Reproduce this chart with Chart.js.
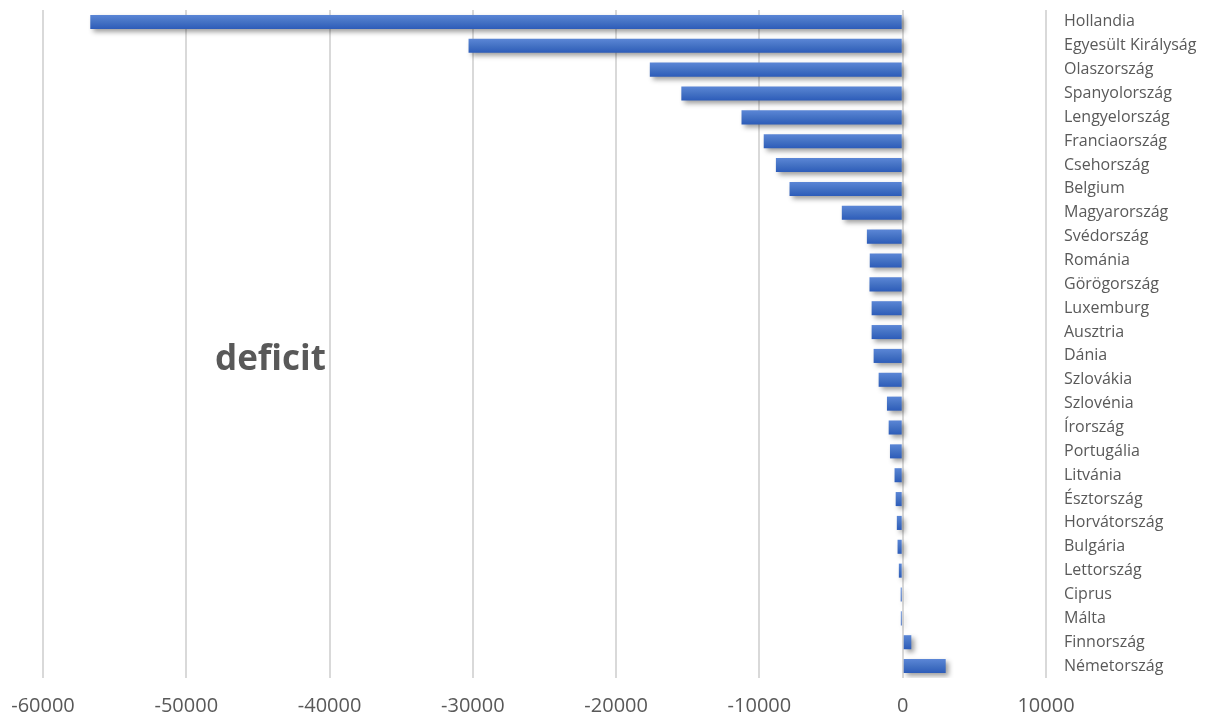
<!DOCTYPE html>
<html>
<head>
<meta charset="utf-8">
<script src="https://cdn.jsdelivr.net/npm/chart.js@4.4.0/dist/chart.umd.min.js"></script>
<style>
    html, body { margin: 0; padding: 0; background: #ffffff; }
    #wrap { width: 1207px; height: 720px; position: relative; }
</style>
</head>
<body>
<div id="wrap"><canvas id="deficitChart"></canvas></div>
<script>
// --- Données ---
const countries = [
    'Hollandia', 'Egyesült Királyság', 'Olaszország', 'Spanyolország', 'Lengyelország',
    'Franciaország', 'Csehország', 'Belgium', 'Magyarország', 'Svédország',
    'Románia', 'Görögország', 'Luxemburg', 'Ausztria', 'Dánia',
    'Szlovákia', 'Szlovénia', 'Írország', 'Portugália', 'Litvánia',
    'Észtország', 'Horvátország', 'Bulgária', 'Lettország', 'Ciprus',
    'Málta', 'Finnország', 'Németország'
];
const balance = [
    -56700, -30300, -17650, -15450, -11250,
    -9700, -8850, -7900, -4250, -2500,
    -2300, -2320, -2170, -2170, -2030,
    -1680, -1100, -980, -890, -570,
    -490, -410, -360, -270, -140,
    -130, 600, 3000
];
const xTicks = [-60000, -50000, -40000, -30000, -20000, -10000, 0, 10000];
const annotationText = 'deficit';

// dégradé vertical pour chaque barre (style Excel)
function barGradient(context) {
    const chart = context.chart;
    const yScale = chart.scales.y;
    if (!chart.chartArea || !yScale) return '#4472c4';
    const center = yScale.getPixelForValue(context.dataIndex);
    const half = 7;
    const g = chart.ctx.createLinearGradient(0, center - half, 0, center + half);
    g.addColorStop(0, '#5b86d6');
    g.addColorStop(0.5, '#4472c4');
    g.addColorStop(1, '#2d5cb9');
    return g;
}

// ombre portée sous les barres
const shadowPlugin = {
    id: 'barShadow',
    beforeDatasetDraw(chart) {
        const ctx = chart.ctx;
        ctx.save();
        ctx.shadowColor = 'rgba(0, 0, 0, 0.38)';
        ctx.shadowBlur = 5;
        ctx.shadowOffsetX = 3;
        ctx.shadowOffsetY = 3;
    },
    afterDatasetDraw(chart) {
        chart.ctx.restore();
    }
};

// texte "deficit" dans la zone du graphique
const labelPlugin = {
    id: 'deficitLabel',
    afterDraw(chart) {
        const ctx = chart.ctx;
        const area = chart.chartArea;
        ctx.save();
        ctx.font = 'bold 35px "Open Sans"';
        ctx.fillStyle = '#595959';
        ctx.textAlign = 'left';
        ctx.textBaseline = 'middle';
        ctx.fillText(annotationText, area.left + 172, area.top + 350);
        ctx.restore();
    }
};

new Chart(document.getElementById('deficitChart'), {
    type: 'bar',
    data: {
        labels: countries,
        datasets: [{
            data: balance,
            backgroundColor: barGradient,
            borderWidth: 0,
            barPercentage: 0.62,
            categoryPercentage: 0.95
        }]
    },
    options: {
        indexAxis: 'y',
        responsive: true,
        maintainAspectRatio: false,
        animation: false,
        layout: { padding: { left: 43, right: 0, top: 10, bottom: 2 } },
        plugins: {
            legend: { display: false },
            tooltip: { enabled: false }
        },
        scales: {
            x: {
                min: -60000,
                max: 10000,
                afterBuildTicks(scale) {
                    scale.ticks = xTicks.map(v => ({ value: v }));
                },
                afterFit(scale) {
                    scale.height = 40;
                    scale.paddingLeft = 0;
                    scale.paddingRight = 0;
                },
                grid: { color: '#d9d9d9', lineWidth: 2, drawTicks: false },
                border: { display: false },
                ticks: {
                    color: '#595959',
                    font: { family: 'Open Sans', size: 20 },
                    padding: 16,
                    maxRotation: 0,
                    callback: v => String(v)
                }
            },
            y: {
                position: 'right',
                afterFit(scale) {
                    scale.width = 161;
                    scale.paddingTop = 0;
                    scale.paddingBottom = 0;
                },
                grid: { display: false, drawTicks: false },
                border: { display: false },
                ticks: {
                    color: '#595959',
                    font: { family: 'Open Sans', size: 16 },
                    padding: 18,
                    autoSkip: false
                }
            }
        }
    },
    plugins: [shadowPlugin, labelPlugin]
});
</script>
</body>
</html>
